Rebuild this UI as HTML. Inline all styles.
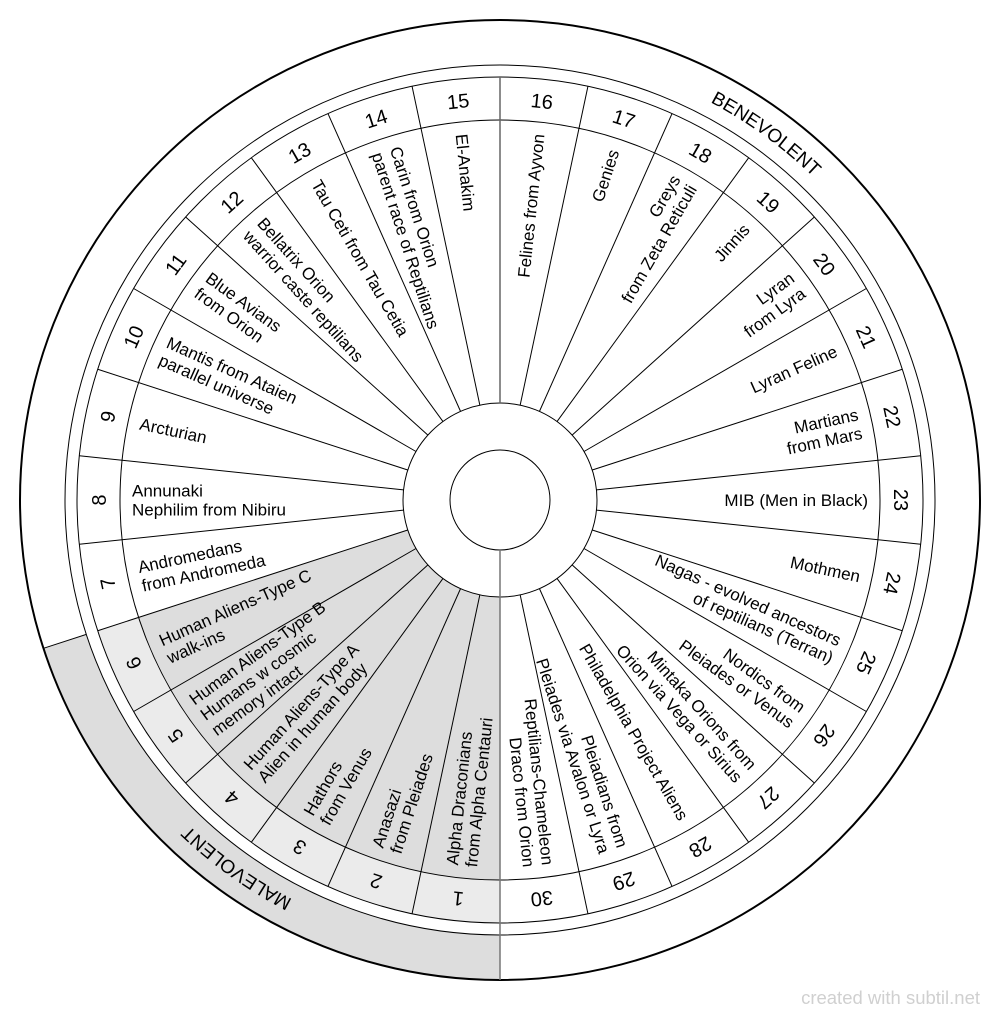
<!DOCTYPE html>
<html><head><meta charset="utf-8"><style>
html,body{margin:0;padding:0;background:#fff;}
svg{display:block;font-family:"Liberation Sans",sans-serif;}
</style></head><body>
<svg width="1000" height="1019" viewBox="0 0 1000 1019" xmlns="http://www.w3.org/2000/svg">
<defs>
<path id="arc" d="M500,50 A450,450 0 0 1 500,950 A450,450 0 0 1 500,50"/>
</defs>
<rect width="1000" height="1019" fill="#fff"/>
<g transform="translate(500,500)">
<path d="M0,480 A480,480 0 0 1 -456.5,148.3 L-413.7,134.4 A435,435 0 0 0 0,435 Z" fill="#dddddd"/>
<path d="M0,423 A423,423 0 0 1 -402.3,130.7 L-361.4,117.4 A380,380 0 0 0 0,380 Z" fill="#ebebeb"/>
<path d="M0,380 A380,380 0 0 1 -361.4,117.4 L-92.3,30.0 A97,97 0 0 0 0,97 Z" fill="#dddddd"/>
<line x1="-413.7" y1="134.4" x2="-456.5" y2="148.3" stroke="#000" stroke-width="1"/>
<g fill="none" stroke="#000" stroke-width="1">
<circle r="480" stroke-width="2"/>
<circle r="435"/>
<circle r="423"/>
<circle r="380"/>
<circle r="97"/>
<circle r="50"/>
</g>
<g stroke="#000" stroke-width="1">
<line x1="0" y1="-97" x2="0" y2="-423" transform="rotate(12)"/>
<line x1="0" y1="-97" x2="0" y2="-423" transform="rotate(24)"/>
<line x1="0" y1="-97" x2="0" y2="-423" transform="rotate(36)"/>
<line x1="0" y1="-97" x2="0" y2="-423" transform="rotate(48)"/>
<line x1="0" y1="-97" x2="0" y2="-423" transform="rotate(60)"/>
<line x1="0" y1="-97" x2="0" y2="-423" transform="rotate(72)"/>
<line x1="0" y1="-97" x2="0" y2="-423" transform="rotate(84)"/>
<line x1="0" y1="-97" x2="0" y2="-423" transform="rotate(96)"/>
<line x1="0" y1="-97" x2="0" y2="-423" transform="rotate(108)"/>
<line x1="0" y1="-97" x2="0" y2="-423" transform="rotate(120)"/>
<line x1="0" y1="-97" x2="0" y2="-423" transform="rotate(132)"/>
<line x1="0" y1="-97" x2="0" y2="-423" transform="rotate(144)"/>
<line x1="0" y1="-97" x2="0" y2="-423" transform="rotate(156)"/>
<line x1="0" y1="-97" x2="0" y2="-423" transform="rotate(168)"/>
<line x1="0" y1="-97" x2="0" y2="-423" transform="rotate(192)"/>
<line x1="0" y1="-97" x2="0" y2="-423" transform="rotate(204)"/>
<line x1="0" y1="-97" x2="0" y2="-423" transform="rotate(216)"/>
<line x1="0" y1="-97" x2="0" y2="-423" transform="rotate(228)"/>
<line x1="0" y1="-97" x2="0" y2="-423" transform="rotate(240)"/>
<line x1="0" y1="-97" x2="0" y2="-423" transform="rotate(252)"/>
<line x1="0" y1="-97" x2="0" y2="-423" transform="rotate(264)"/>
<line x1="0" y1="-97" x2="0" y2="-423" transform="rotate(276)"/>
<line x1="0" y1="-97" x2="0" y2="-423" transform="rotate(288)"/>
<line x1="0" y1="-97" x2="0" y2="-423" transform="rotate(300)"/>
<line x1="0" y1="-97" x2="0" y2="-423" transform="rotate(312)"/>
<line x1="0" y1="-97" x2="0" y2="-423" transform="rotate(324)"/>
<line x1="0" y1="-97" x2="0" y2="-423" transform="rotate(336)"/>
<line x1="0" y1="-97" x2="0" y2="-423" transform="rotate(348)"/>
</g>
<line x1="0" y1="-97" x2="0" y2="-423" stroke="#666" stroke-width="1.5"/>
<line x1="0" y1="50" x2="0" y2="480" stroke="#777" stroke-width="1.5"/>

<g font-size="20" text-anchor="middle" fill="#000">
<text x="0" y="-394" transform="rotate(186)">1</text>
<text x="0" y="-394" transform="rotate(198)">2</text>
<text x="0" y="-394" transform="rotate(210)">3</text>
<text x="0" y="-394" transform="rotate(222)">4</text>
<text x="0" y="-394" transform="rotate(234)">5</text>
<text x="0" y="-394" transform="rotate(246)">6</text>
<text x="0" y="-394" transform="rotate(258)">7</text>
<text x="0" y="-394" transform="rotate(270)">8</text>
<text x="0" y="-394" transform="rotate(282)">9</text>
<text x="0" y="-394" transform="rotate(294)">10</text>
<text x="0" y="-394" transform="rotate(306)">11</text>
<text x="0" y="-394" transform="rotate(318)">12</text>
<text x="0" y="-394" transform="rotate(330)">13</text>
<text x="0" y="-394" transform="rotate(342)">14</text>
<text x="0" y="-394" transform="rotate(354)">15</text>
<text x="0" y="-394" transform="rotate(6)">16</text>
<text x="0" y="-394" transform="rotate(18)">17</text>
<text x="0" y="-394" transform="rotate(30)">18</text>
<text x="0" y="-394" transform="rotate(42)">19</text>
<text x="0" y="-394" transform="rotate(54)">20</text>
<text x="0" y="-394" transform="rotate(66)">21</text>
<text x="0" y="-394" transform="rotate(78)">22</text>
<text x="0" y="-394" transform="rotate(90)">23</text>
<text x="0" y="-394" transform="rotate(102)">24</text>
<text x="0" y="-394" transform="rotate(114)">25</text>
<text x="0" y="-394" transform="rotate(126)">26</text>
<text x="0" y="-394" transform="rotate(138)">27</text>
<text x="0" y="-394" transform="rotate(150)">28</text>
<text x="0" y="-394" transform="rotate(162)">29</text>
<text x="0" y="-394" transform="rotate(174)">30</text>
</g>

<g font-size="17" text-anchor="start" fill="#000">
<g transform="rotate(-84)"><text x="-368" y="-3.5">Alpha Draconians</text><text x="-368" y="15.5">from Alpha Centauri</text></g>
<g transform="rotate(-72)"><text x="-368" y="-3.5">Anasazi</text><text x="-368" y="15.5">from Pleiades</text></g>
<g transform="rotate(-60)"><text x="-368" y="-3.5">Hathors</text><text x="-368" y="15.5">from Venus</text></g>
<g transform="rotate(-48)"><text x="-368" y="-3.5">Human Aliens-Type A</text><text x="-368" y="15.5">Alien in human body</text></g>
<g transform="rotate(-36)"><text x="-368" y="-13">Human Aliens-Type B</text><text x="-368" y="6">Humans w cosmic</text><text x="-368" y="25">memory intact</text></g>
<g transform="rotate(-24)"><text x="-368" y="-3.5">Human Aliens-Type C</text><text x="-368" y="15.5">walk-ins</text></g>
<g transform="rotate(-12)"><text x="-368" y="-3.5">Andromedans</text><text x="-368" y="15.5">from Andromeda</text></g>
<g transform="rotate(0)"><text x="-368" y="-3.5">Annunaki</text><text x="-368" y="15.5">Nephilim from Nibiru</text></g>
<g transform="rotate(12)"><text x="-368" y="6">Arcturian</text></g>
<g transform="rotate(24)"><text x="-368" y="-3.5">Mantis from Ataien</text><text x="-368" y="15.5">parallel universe</text></g>
<g transform="rotate(36)"><text x="-368" y="-3.5">Blue Avians</text><text x="-368" y="15.5">from Orion</text></g>
<g transform="rotate(48)"><text x="-368" y="-3.5">Bellatrix Orion</text><text x="-368" y="15.5">warrior caste reptilians</text></g>
<g transform="rotate(60)"><text x="-368" y="6">Tau Ceti from Tau Cetia</text></g>
<g transform="rotate(72)"><text x="-368" y="-3.5">Carin from Orion</text><text x="-368" y="15.5">parent race of Reptilians</text></g>
<g transform="rotate(84)"><text x="-368" y="6">El-Anakim</text></g>
</g>

<g font-size="17" text-anchor="end" fill="#000">
<g transform="rotate(-84)"><text x="368" y="6">Felines from Ayvon</text></g>
<g transform="rotate(-72)"><text x="368" y="6">Genies</text></g>
<g transform="rotate(-60)"><text x="368" y="-3.5">Greys</text><text x="368" y="15.5">from Zeta Reticuli</text></g>
<g transform="rotate(-48)"><text x="368" y="6">Jinnis</text></g>
<g transform="rotate(-36)"><text x="368" y="-3.5">Lyran</text><text x="368" y="15.5">from Lyra</text></g>
<g transform="rotate(-24)"><text x="368" y="6">Lyran Feline</text></g>
<g transform="rotate(-12)"><text x="368" y="-3.5">Martians</text><text x="368" y="15.5">from Mars</text></g>
<g transform="rotate(0)"><text x="368" y="6">MIB (Men in Black)</text></g>
<g transform="rotate(12)"><text x="368" y="6">Mothmen</text></g>
<g transform="rotate(24)"><text x="368" y="-3.5">Nagas - evolved ancestors</text><text x="368" y="15.5">of reptilians (Terran)</text></g>
<g transform="rotate(36)"><text x="368" y="-3.5">Nordics from</text><text x="368" y="15.5">Pleiades or Venus</text></g>
<g transform="rotate(48)"><text x="368" y="-3.5">Mintaka Orions from</text><text x="368" y="15.5">Orion via Vega or Sirius</text></g>
<g transform="rotate(60)"><text x="368" y="6">Philadelphia Project Aliens</text></g>
<g transform="rotate(72)"><text x="368" y="-3.5">Pleiadians from</text><text x="368" y="15.5">Pleiades via Avalon or Lyra</text></g>
<g transform="rotate(84)"><text x="368" y="-3.5">Reptilians-Chameleon</text><text x="368" y="15.5">Draco from Orion</text></g>
</g>
</g>

<text font-size="19" fill="#000" text-anchor="middle"><textPath href="#arc" startOffset="282.7">BENEVOLENT</textPath></text>
<text font-size="19" fill="#000" text-anchor="middle"><textPath href="#arc" startOffset="1693">MALEVOLENT</textPath></text>

<text x="980" y="1004" font-size="18.5" fill="#d0d0d0" text-anchor="end">created with subtil.net</text>
</svg>
</body></html>
